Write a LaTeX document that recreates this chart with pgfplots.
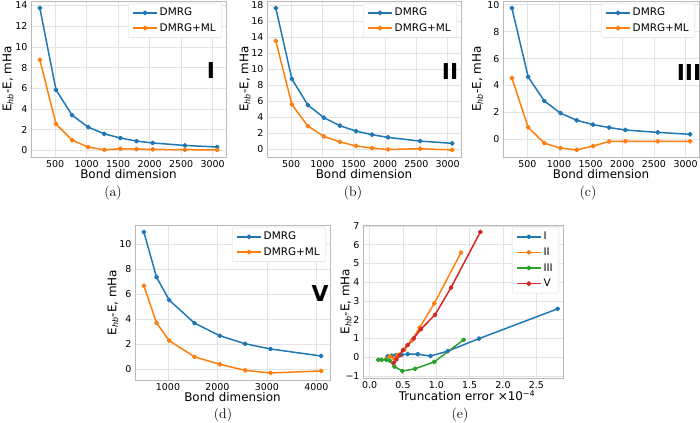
\documentclass[border=0pt]{standalone}
\usepackage{pgfplots}
\pgfplotsset{compat=1.18}
\usepackage{fontspec}
\newfontfamily\dejavu{DejaVu Sans}

\definecolor{mplblue}{HTML}{1F77B4}
\definecolor{mplorange}{HTML}{FF7F0E}
\definecolor{mplgreen}{HTML}{2CA02C}
\definecolor{mplred}{HTML}{D62728}

\pgfplotsset{
  panel/.style={
    scale only axis,
    font=\dejavu,
    axis line style={gray!55, line width=0.6bp},
    grid=major,
    major grid style={gray!22, line width=0.6bp},
    tick style={draw=none},
    /pgf/number format/assume math mode=true,
    /pgf/number format/1000 sep={},
    scaled ticks=false,
    tick label style={font=\dejavu\fontsize{9.5}{10}\selectfont},
    label style={font=\dejavu\fontsize{12}{13}\selectfont},
    enlarge x limits=0.05,
    enlarge y limits=0.05,
    every axis plot/.append style={line width=1.5bp, line join=round, mark=*, mark size=1.7bp},
    legend cell align=left,
    legend style={at={(1,1)}, anchor=north east, xshift=-4bp, yshift=-2bp,
      draw=gray!30, rounded corners=2bp, fill=white,
      font=\dejavu\fontsize{10.5}{12}\selectfont,
      inner xsep=4bp, inner ysep=3bp, row sep=2bp},
    legend image code/.code={
      \draw[mark repeat=2, mark phase=2] plot coordinates {(0bp,0bp) (12bp,0bp) (24bp,0bp)};
    },
  },
  bond/.style={
    xtick={500,1000,1500,2000,2500,3000},
    xlabel={Bond dimension},
    ylabel={E\textsubscript{\textit{hb}}-E, mHa},
  },
}

\newcommand{\capfont}{\fontsize{14}{14}\selectfont}
\newcommand{\romfont}{\dejavu\bfseries\fontsize{22}{22}\selectfont}

\begin{document}
\begin{tikzpicture}
\path[use as bounding box] (0,0) rectangle (700bp,423bp);

% (a) system I
\begin{axis}[panel, bond,
  at={(31bp,266bp)}, anchor=south west, width=195bp, height=156bp,
  ytick={0,2,4,6,8,10,12,14},
  ylabel style={at={(axis description cs:-0.118,0.5)}, anchor=center},
  xlabel style={at={(axis description cs:0.5,-0.112)}, anchor=center}]
\addplot[mplblue] coordinates {(256,13.75) (512,5.85) (768,3.4) (1024,2.25) (1280,1.6) (1536,1.2) (1792,0.9) (2048,0.72) (2560,0.48) (3072,0.33)};
\addlegendentry{DMRG}
\addplot[mplorange] coordinates {(256,8.75) (512,2.56) (768,0.99) (1024,0.32) (1280,0.06) (1536,0.16) (1792,0.13) (2048,0.10) (2560,0.07) (3072,0.05)};
\addlegendentry{DMRG+ML}
\end{axis}

% (b) system II
\begin{axis}[panel, bond,
  at={(267bp,266bp)}, anchor=south west, width=194bp, height=156bp,
  ytick={0,2,4,6,8,10,12,14,16,18},
  ylabel style={at={(axis description cs:-0.113,0.5)}, anchor=center},
  xlabel style={at={(axis description cs:0.5,-0.112)}, anchor=center}]
\addplot[mplblue] coordinates {(256,17.6) (512,8.75) (768,5.5) (1024,3.92) (1280,2.92) (1536,2.25) (1792,1.8) (2048,1.46) (2560,1.0) (3072,0.72)};
\addlegendentry{DMRG}
\addplot[mplorange] coordinates {(256,13.5) (512,5.58) (768,2.87) (1024,1.58) (1280,0.9) (1536,0.4) (1792,0.12) (2048,-0.05) (2560,0.05) (3072,-0.1)};
\addlegendentry{DMRG+ML}
\end{axis}

% (c) system III
\begin{axis}[panel, bond,
  at={(503bp,266bp)}, anchor=south west, width=196bp, height=156bp,
  ytick={0,2,4,6,8,10},
  ylabel style={at={(axis description cs:-0.13,0.5)}, anchor=center},
  xlabel style={at={(axis description cs:0.5,-0.112)}, anchor=center}]
\addplot[mplblue] coordinates {(256,9.75) (512,4.65) (768,2.85) (1024,1.95) (1280,1.42) (1536,1.1) (1792,0.88) (2048,0.7) (2560,0.52) (3072,0.38)};
\addlegendentry{DMRG}
\addplot[mplorange] coordinates {(256,4.55) (512,0.9) (768,-0.28) (1024,-0.65) (1280,-0.78) (1536,-0.5) (1792,-0.15) (2048,-0.14) (2560,-0.15) (3072,-0.14)};
\addlegendentry{DMRG+ML}
\end{axis}

% (d) system V
\begin{axis}[panel,
  at={(135bp,43bp)}, anchor=south west, width=195bp, height=155bp,
  xtick={1000,2000,3000,4000},
  ytick={0,2,4,6,8,10},
  xlabel={Bond dimension},
  ylabel={E\textsubscript{\textit{hb}}-E, mHa},
  ylabel style={at={(axis description cs:-0.113,0.5)}, anchor=center},
  xlabel style={at={(axis description cs:0.5,-0.113)}, anchor=center}]
\addplot[mplblue] coordinates {(512,11.0) (768,7.38) (1024,5.55) (1536,3.7) (2048,2.69) (2560,2.05) (3072,1.63) (4096,1.07)};
\addlegendentry{DMRG}
\addplot[mplorange] coordinates {(512,6.7) (768,3.72) (1024,2.3) (1536,1.0) (2048,0.4) (2560,-0.08) (3072,-0.29) (4096,-0.13)};
\addlegendentry{DMRG+ML}
\end{axis}

% (e) DMRG+ML error against truncation error
\begin{axis}[panel,
  at={(363bp,45bp)}, anchor=south west, width=200bp, height=153bp,
  enlarge x limits=false, xmin=-0.1, xmax=2.9,
  xtick={0,0.5,1,1.5,2,2.5},
  xticklabels={0.0,0.5,1.0,1.5,2.0,2.5},
  ytick={-1,0,1,2,3,4,5,6,7},
  yticklabels={−1,0,1,2,3,4,5,6,7},
  xlabel={Truncation error ×10\textsuperscript{−4}},
  ylabel={E\textsubscript{\textit{hb}}-E, mHa},
  ylabel style={at={(axis description cs:-0.085,0.5)}, anchor=center},
  xlabel style={at={(axis description cs:0.52,-0.114)}, anchor=center},
  legend style={row sep=2.5bp}]
\addplot[mplblue] coordinates {(0.27,0.05) (0.33,0.08) (0.39,0.10) (0.48,0.13) (0.57,0.16) (0.72,0.16) (0.91,0.06) (1.17,0.32) (1.64,0.99) (2.82,2.58)};
\addlegendentry{I}
\addplot[mplorange] coordinates {(0.25,-0.1) (0.30,0.05) (0.36,-0.05) (0.42,0.12) (0.52,0.4) (0.63,0.88) (0.75,1.58) (0.97,2.87) (1.37,5.58)};
\addlegendentry{II}
\addplot[mplgreen] coordinates {(0.13,-0.14) (0.18,-0.14) (0.25,-0.14) (0.30,-0.18) (0.37,-0.5) (0.49,-0.74) (0.68,-0.62) (0.97,-0.25) (1.41,0.93)};
\addlegendentry{III}
\addplot[mplred] coordinates {(0.36,-0.3) (0.40,-0.12) (0.45,0.1) (0.50,0.38) (0.57,0.65) (0.66,1.0) (0.77,1.5) (0.98,2.26) (1.22,3.71) (1.66,6.68)};
\addlegendentry{V}
\end{axis}

% system labels
\node[font=\romfont] at (211bp,352bp) {I};
\node[font=\romfont] at (450bp,351bp) {II};
\node[font=\romfont] at (689bp,350.5bp) {III};
\node[font=\romfont] at (320bp,129.5bp) {V};

% sub-figure captions
\node[font=\capfont] at (113bp,230bp) {(a)};
\node[font=\capfont] at (353bp,230bp) {(b)};
\node[font=\capfont] at (588bp,230bp) {(c)};
\node[font=\capfont] at (223bp,8bp) {(d)};
\node[font=\capfont] at (460bp,8bp) {(e)};
\end{tikzpicture}
\end{document}
